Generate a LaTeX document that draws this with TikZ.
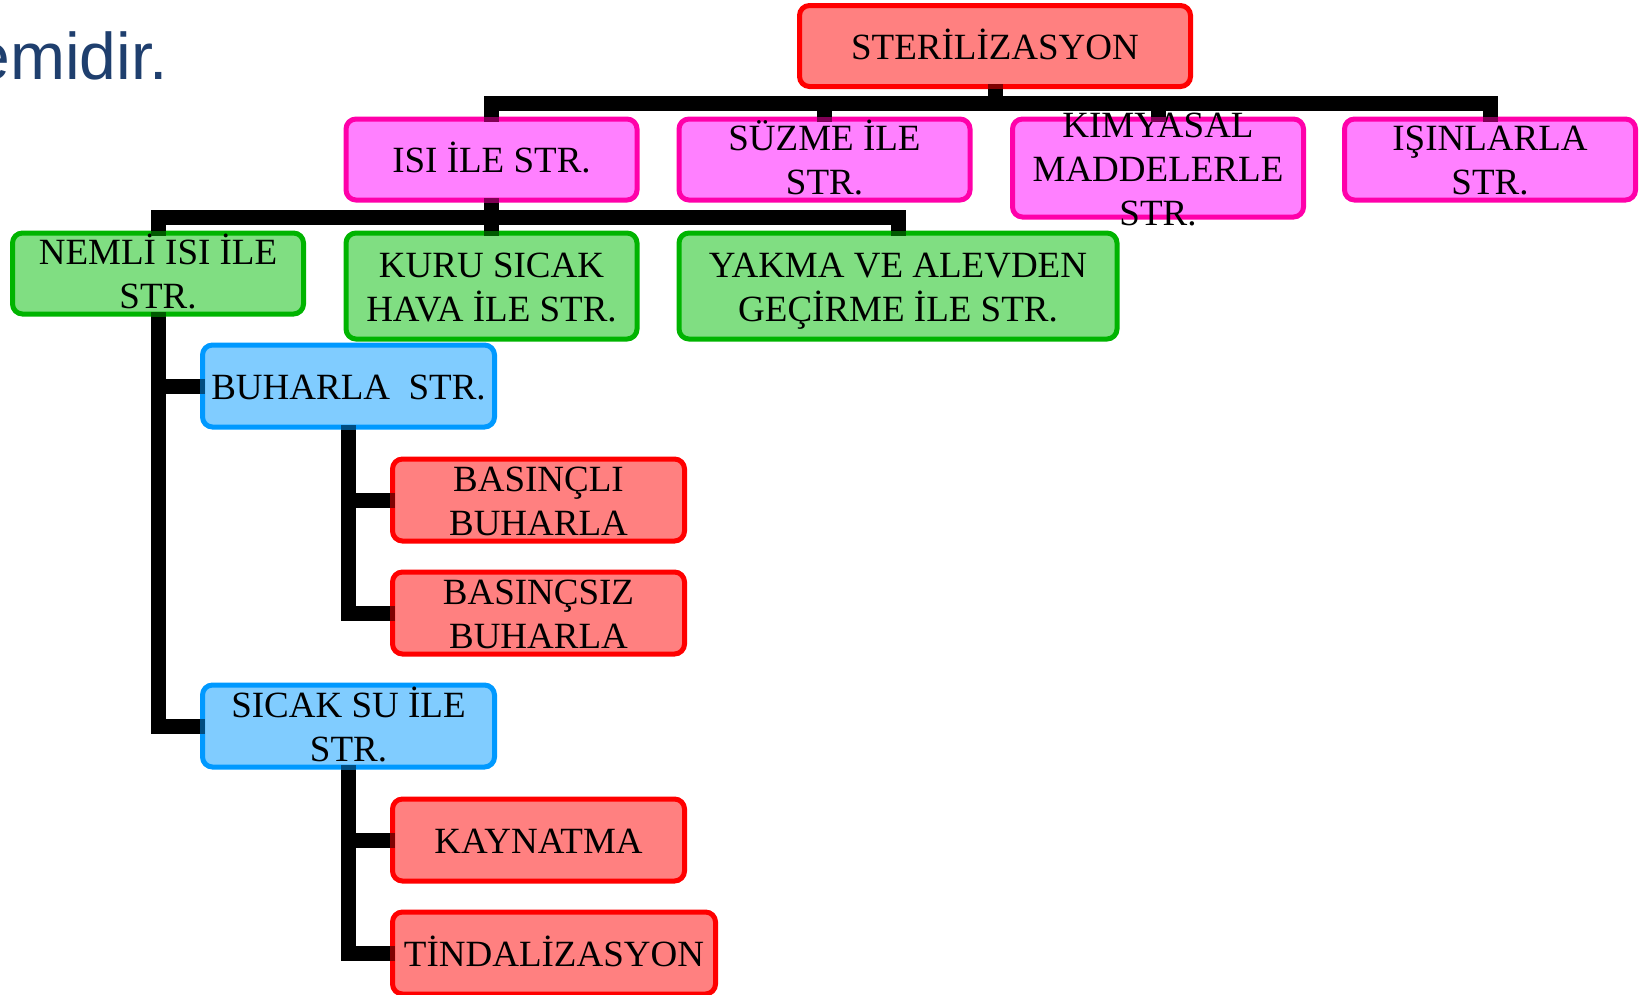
\documentclass[tikz,border=0pt]{standalone}
\usepackage{fontspec}
\setmainfont{Liberation Serif}
\newfontfamily\titlefont{Liberation Sans}
\definecolor{rfill}{HTML}{FF8080}
\definecolor{rline}{HTML}{FF0000}
\definecolor{mfill}{HTML}{FF80FF}
\definecolor{mline}{HTML}{FF00AA}
\definecolor{gfill}{HTML}{80DE82}
\definecolor{gline}{HTML}{00B400}
\definecolor{bfill}{HTML}{80CCFF}
\definecolor{bline}{HTML}{0099FF}
\definecolor{ttl}{HTML}{1F3F6E}
\begin{document}
\begin{tikzpicture}[x=1pt,y=-1pt,
  box/.style={rectangle, rounded corners=10pt, line width=5pt, inner sep=0pt,
    align=center, font=\fontsize{37}{44}\selectfont, minimum width=291pt, minimum height=81pt},
  redbox/.style={box, fill=rfill, draw=rline},
  magbox/.style={box, fill=mfill, draw=mline},
  grnbox/.style={box, fill=gfill, draw=gline},
  blubox/.style={box, fill=bfill, draw=bline},
  lone/.style={text height=26pt, text depth=0pt},
  ltwo/.style={text height=70pt, text depth=0pt},
  lthree/.style={text height=114pt, text depth=0pt},
  txt/.style={inner sep=0pt, align=center, font=\fontsize{37}{44}\selectfont},
  conn/.style={line width=15pt, line join=miter, draw=black},
  tick/.style={line width=15pt}
]
\useasboundingbox (0,0) rectangle (1646,994);
\clip (0,0) rectangle (1646,994);

\node[anchor=base east, inner sep=0pt, text=ttl,
  font=\titlefont\fontsize{66}{70}\selectfont] (title) at (168,79) {emidir.};

% boxes
\node[redbox, lone, minimum width=391pt] (ster) at (995,46) {STERİLİZASYON};
\node[magbox, lone] (isi) at (491.5,159.5) {ISI İLE STR.};
\node[magbox, ltwo] (suz) at (824.5,159.5) {SÜZME İLE\\STR.};
\node[magbox, minimum height=98pt] (kim) at (1158,168) {};
\node[txt, lthree] (kimtxt) at (kim.center) {KIMYASAL\\MADDELERLE\\STR.};
\node[magbox, ltwo] (isin) at (1490,159.5) {IŞINLARLA\\STR.};

\node[grnbox, ltwo] (nemli) at (158,273.5) {NEMLİ ISI İLE\\STR.};
\node[grnbox, ltwo, minimum height=106pt] (kuru) at (491.5,286) {KURU SICAK\\HAVA İLE STR.};
\node[grnbox, ltwo, minimum width=438pt, minimum height=106pt] (yakma) at (898,286) {YAKMA VE ALEVDEN\\GEÇİRME İLE STR.};

\node[blubox, lone, minimum width=292pt, minimum height=82pt] (buhar) at (348.5,386) {BUHARLA\ \ STR.};
\node[redbox, ltwo, minimum width=292pt, minimum height=82pt] (basli) at (538.5,500) {BASINÇLI\\BUHARLA};
\node[redbox, ltwo, minimum width=292pt, minimum height=82pt] (bassiz) at (538.5,613) {BASINÇSIZ\\BUHARLA};
\node[blubox, ltwo, minimum width=292pt, minimum height=82pt] (sicak) at (348.5,726) {SICAK SU İLE\\STR.};
\node[redbox, lone, minimum width=292pt, minimum height=82pt] (kayn) at (538.5,840) {KAYNATMA};
\node[redbox, lone, minimum width=323pt, minimum height=82pt] (tind) at (554,953) {TİNDALİZASYON};

% connectors
\coordinate (b1) at (995,103);
\coordinate (b2) at (491.5,217);
\draw[conn] (ster.south) -- (b1);
\draw[conn] (b1) -| (isi.north);
\draw[conn] (b1) -| (suz.north);
\draw[conn] (b1) -| (kim.north);
\draw[conn] (b1) -| (isin.north);
\draw[conn] (isi.south) -- (kuru.north);
\draw[conn] (b2) -| (nemli.north);
\draw[conn] (b2) -| (yakma.north);
\draw[conn] (nemli.south) |- (buhar.west);
\draw[conn] (nemli.south) |- (sicak.west);
\draw[conn] (buhar.south) |- (basli.west);
\draw[conn] (buhar.south) |- (bassiz.west);
\draw[conn] (sicak.south) |- (kayn.west);
\draw[conn] (sicak.south) |- (tind.west);

% dark marks where connectors meet borders
\draw[tick, rline!50!black] (ster.south) -- ++(0,-5);
\draw[tick, mline!50!black] (isi.north) -- ++(0,5);
\draw[tick, mline!50!black] (suz.north) -- ++(0,5);
\draw[tick, mline!50!black] (kim.north) -- ++(0,5);
\draw[tick, mline!50!black] (isin.north) -- ++(0,5);
\draw[tick, mline!50!black] (isi.south) -- ++(0,-5);
\draw[tick, gline!50!black] (nemli.north) -- ++(0,5);
\draw[tick, gline!50!black] (kuru.north) -- ++(0,5);
\draw[tick, gline!50!black] (yakma.north) -- ++(0,5);
\draw[tick, gline!50!black] (nemli.south) -- ++(0,-5);
\draw[tick, bline!50!black] (buhar.west) -- ++(5,0);
\draw[tick, bline!50!black] (buhar.south) -- ++(0,-5);
\draw[tick, bline!50!black] (sicak.west) -- ++(5,0);
\draw[tick, bline!50!black] (sicak.south) -- ++(0,-5);
\draw[tick, rline!50!black] (basli.west) -- ++(5,0);
\draw[tick, rline!50!black] (bassiz.west) -- ++(5,0);
\draw[tick, rline!50!black] (kayn.west) -- ++(5,0);
\draw[tick, rline!50!black] (tind.west) -- ++(5,0);
\end{tikzpicture}
\end{document}
